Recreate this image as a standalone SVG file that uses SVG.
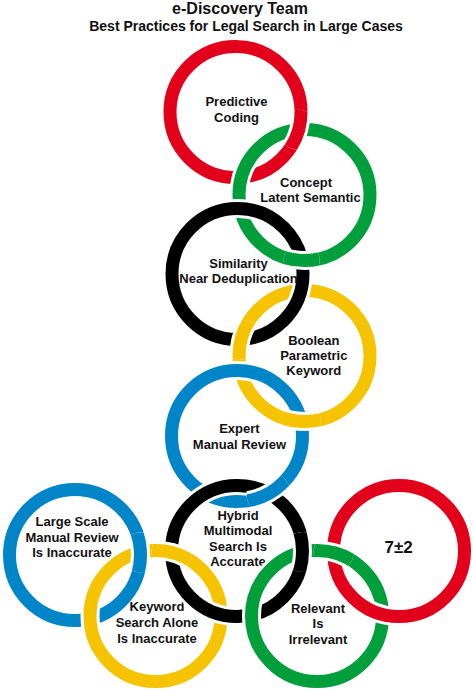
<svg xmlns="http://www.w3.org/2000/svg" width="473" height="691" viewBox="0 0 473 691">
<style>
  .halo{fill:none;stroke:#fff;stroke-width:19}
  .ring{fill:none;stroke-width:13}
  .red{stroke:#E2001A}
  .green{stroke:#009F3C}
  .black{stroke:#000}
  .yellow{stroke:#F5C300}
  .blue{stroke:#0086C8}
  text{font-family:"Liberation Sans",Arial,sans-serif;font-weight:bold;fill:#111;text-anchor:middle}
  .lbl{font-size:13px}
</style>
<defs>
  <g id="ring-red1"><circle class="halo" cx="235.5" cy="112" r="65.5"/><circle class="ring red" cx="235.5" cy="112" r="65.5"/></g>
  <g id="ring-green1"><circle class="halo" cx="304.5" cy="195" r="65.5"/><circle class="ring green" cx="304.5" cy="195" r="65.5"/></g>
  <g id="ring-black1"><circle class="halo" cx="237.5" cy="274" r="65.5"/><circle class="ring black" cx="237.5" cy="274" r="65.5"/></g>
  <g id="ring-yellow1"><circle class="halo" cx="304.5" cy="356" r="65.5"/><circle class="ring yellow" cx="304.5" cy="356" r="65.5"/></g>
  <g id="ring-blue1"><circle class="halo" cx="237" cy="436" r="65.5"/><circle class="ring blue" cx="237" cy="436" r="65.5"/></g>
  <g id="ring-blue2"><circle class="halo" cx="75" cy="555" r="65.5"/><circle class="ring blue" cx="75" cy="555" r="65.5"/></g>
  <g id="ring-yellow2"><circle class="halo" cx="155.5" cy="616" r="65.5"/><circle class="ring yellow" cx="155.5" cy="616" r="65.5"/></g>
  <g id="ring-black2"><circle class="halo" cx="237" cy="551" r="65.5"/><circle class="ring black" cx="237" cy="551" r="65.5"/></g>
  <g id="ring-green2"><circle class="halo" cx="317" cy="616" r="65.5"/><circle class="ring green" cx="317" cy="616" r="65.5"/></g>
  <g id="ring-red2"><circle class="halo" cx="399" cy="551" r="65.5"/><circle class="ring red" cx="399" cy="551" r="65.5"/></g>
  <clipPath id="x-red1"><circle cx="298.5" cy="129.8" r="20"/></clipPath>
  <clipPath id="x-green1"><circle cx="301.6" cy="260.4" r="18"/></clipPath>
  <clipPath id="x-yellow1a"><circle cx="241.1" cy="339.4" r="20"/></clipPath>
  <clipPath id="x-yellow1b"><circle cx="300.9" cy="421.4" r="20"/></clipPath>
  <clipPath id="x-blue2"><circle cx="140.4" cy="552.3" r="20"/></clipPath>
  <clipPath id="x-blue1"><circle cx="268.4" cy="493.5" r="22"/></clipPath>
  <clipPath id="x-yellow2"><circle cx="171.5" cy="552.5" r="20"/></clipPath>
  <clipPath id="x-black2"><circle cx="302.5" cy="552.1" r="20"/></clipPath>
  <clipPath id="x-green2"><circle cx="333.5" cy="552.6" r="20"/></clipPath>
</defs>

<g id="title">
  <text x="240" y="13.5" style="font-size:16px">e-Discovery Team</text>
  <text x="246" y="30.7" style="font-size:14px">Best Practices for Legal Search in Large Cases</text>
</g>

<g id="node-predictive-coding">
  <use href="#ring-red1"/>
  <text class="lbl" x="236.5" y="106">Predictive</text>
  <text class="lbl" x="236.5" y="121.5">Coding</text>
</g>
<g id="node-concept">
  <use href="#ring-green1"/>
  <text class="lbl" x="306" y="186.5">Concept</text>
  <text class="lbl" x="310.5" y="202">Latent Semantic</text>
</g>
<g id="node-boolean">
  <use href="#ring-yellow1"/>
  <text class="lbl" x="313.8" y="345">Boolean</text>
  <text class="lbl" x="313.8" y="360">Parametric</text>
  <text class="lbl" x="313.8" y="375">Keyword</text>
</g>
<g id="node-similarity">
  <use href="#ring-black1"/>
  <text class="lbl" x="238.5" y="267.5">Similarity</text>
  <text class="lbl" x="238.5" y="282.5">Near Deduplication</text>
</g>
<g id="node-expert">
  <use href="#ring-blue1"/>
  <text class="lbl" x="239.4" y="433.3">Expert</text>
  <text class="lbl" x="239.4" y="449">Manual Review</text>
</g>
<g id="node-large-scale">
  <use href="#ring-blue2"/>
  <text class="lbl" x="72" y="526">Large Scale</text>
  <text class="lbl" x="72" y="541.7">Manual Review</text>
  <text class="lbl" x="72" y="557.3">Is Inaccurate</text>
</g>
<g id="node-keyword">
  <use href="#ring-yellow2"/>
  <text class="lbl" x="157" y="611">Keyword</text>
  <text class="lbl" x="157" y="626.7">Search Alone</text>
  <text class="lbl" x="157" y="642.7">Is Inaccurate</text>
</g>
<g id="node-hybrid">
  <use href="#ring-black2"/>
  <text class="lbl" x="238" y="520">Hybrid</text>
  <text class="lbl" x="238" y="535">Multimodal</text>
  <text class="lbl" x="238" y="551">Search Is</text>
  <text class="lbl" x="238" y="566">Accurate</text>
</g>
<g id="node-relevant">
  <use href="#ring-green2"/>
  <text class="lbl" x="318" y="613.3">Relevant</text>
  <text class="lbl" x="318" y="628.3">Is</text>
  <text class="lbl" x="318" y="644.3">Irrelevant</text>
</g>
<g id="node-seven">
  <use href="#ring-red2"/>
  <text x="398.7" y="553" style="font-size:17px">7±2</text>
</g>

<g id="crossings">
  <use href="#ring-red1" clip-path="url(#x-red1)"/>
  <use href="#ring-green1" clip-path="url(#x-green1)"/>
  <use href="#ring-yellow1" clip-path="url(#x-yellow1a)"/>
  <use href="#ring-yellow1" clip-path="url(#x-yellow1b)"/>
  <use href="#ring-blue2" clip-path="url(#x-blue2)"/>
  <use href="#ring-blue1" clip-path="url(#x-blue1)"/>
  <use href="#ring-yellow2" clip-path="url(#x-yellow2)"/>
  <use href="#ring-black2" clip-path="url(#x-black2)"/>
  <use href="#ring-green2" clip-path="url(#x-green2)"/>
</g>
</svg>
